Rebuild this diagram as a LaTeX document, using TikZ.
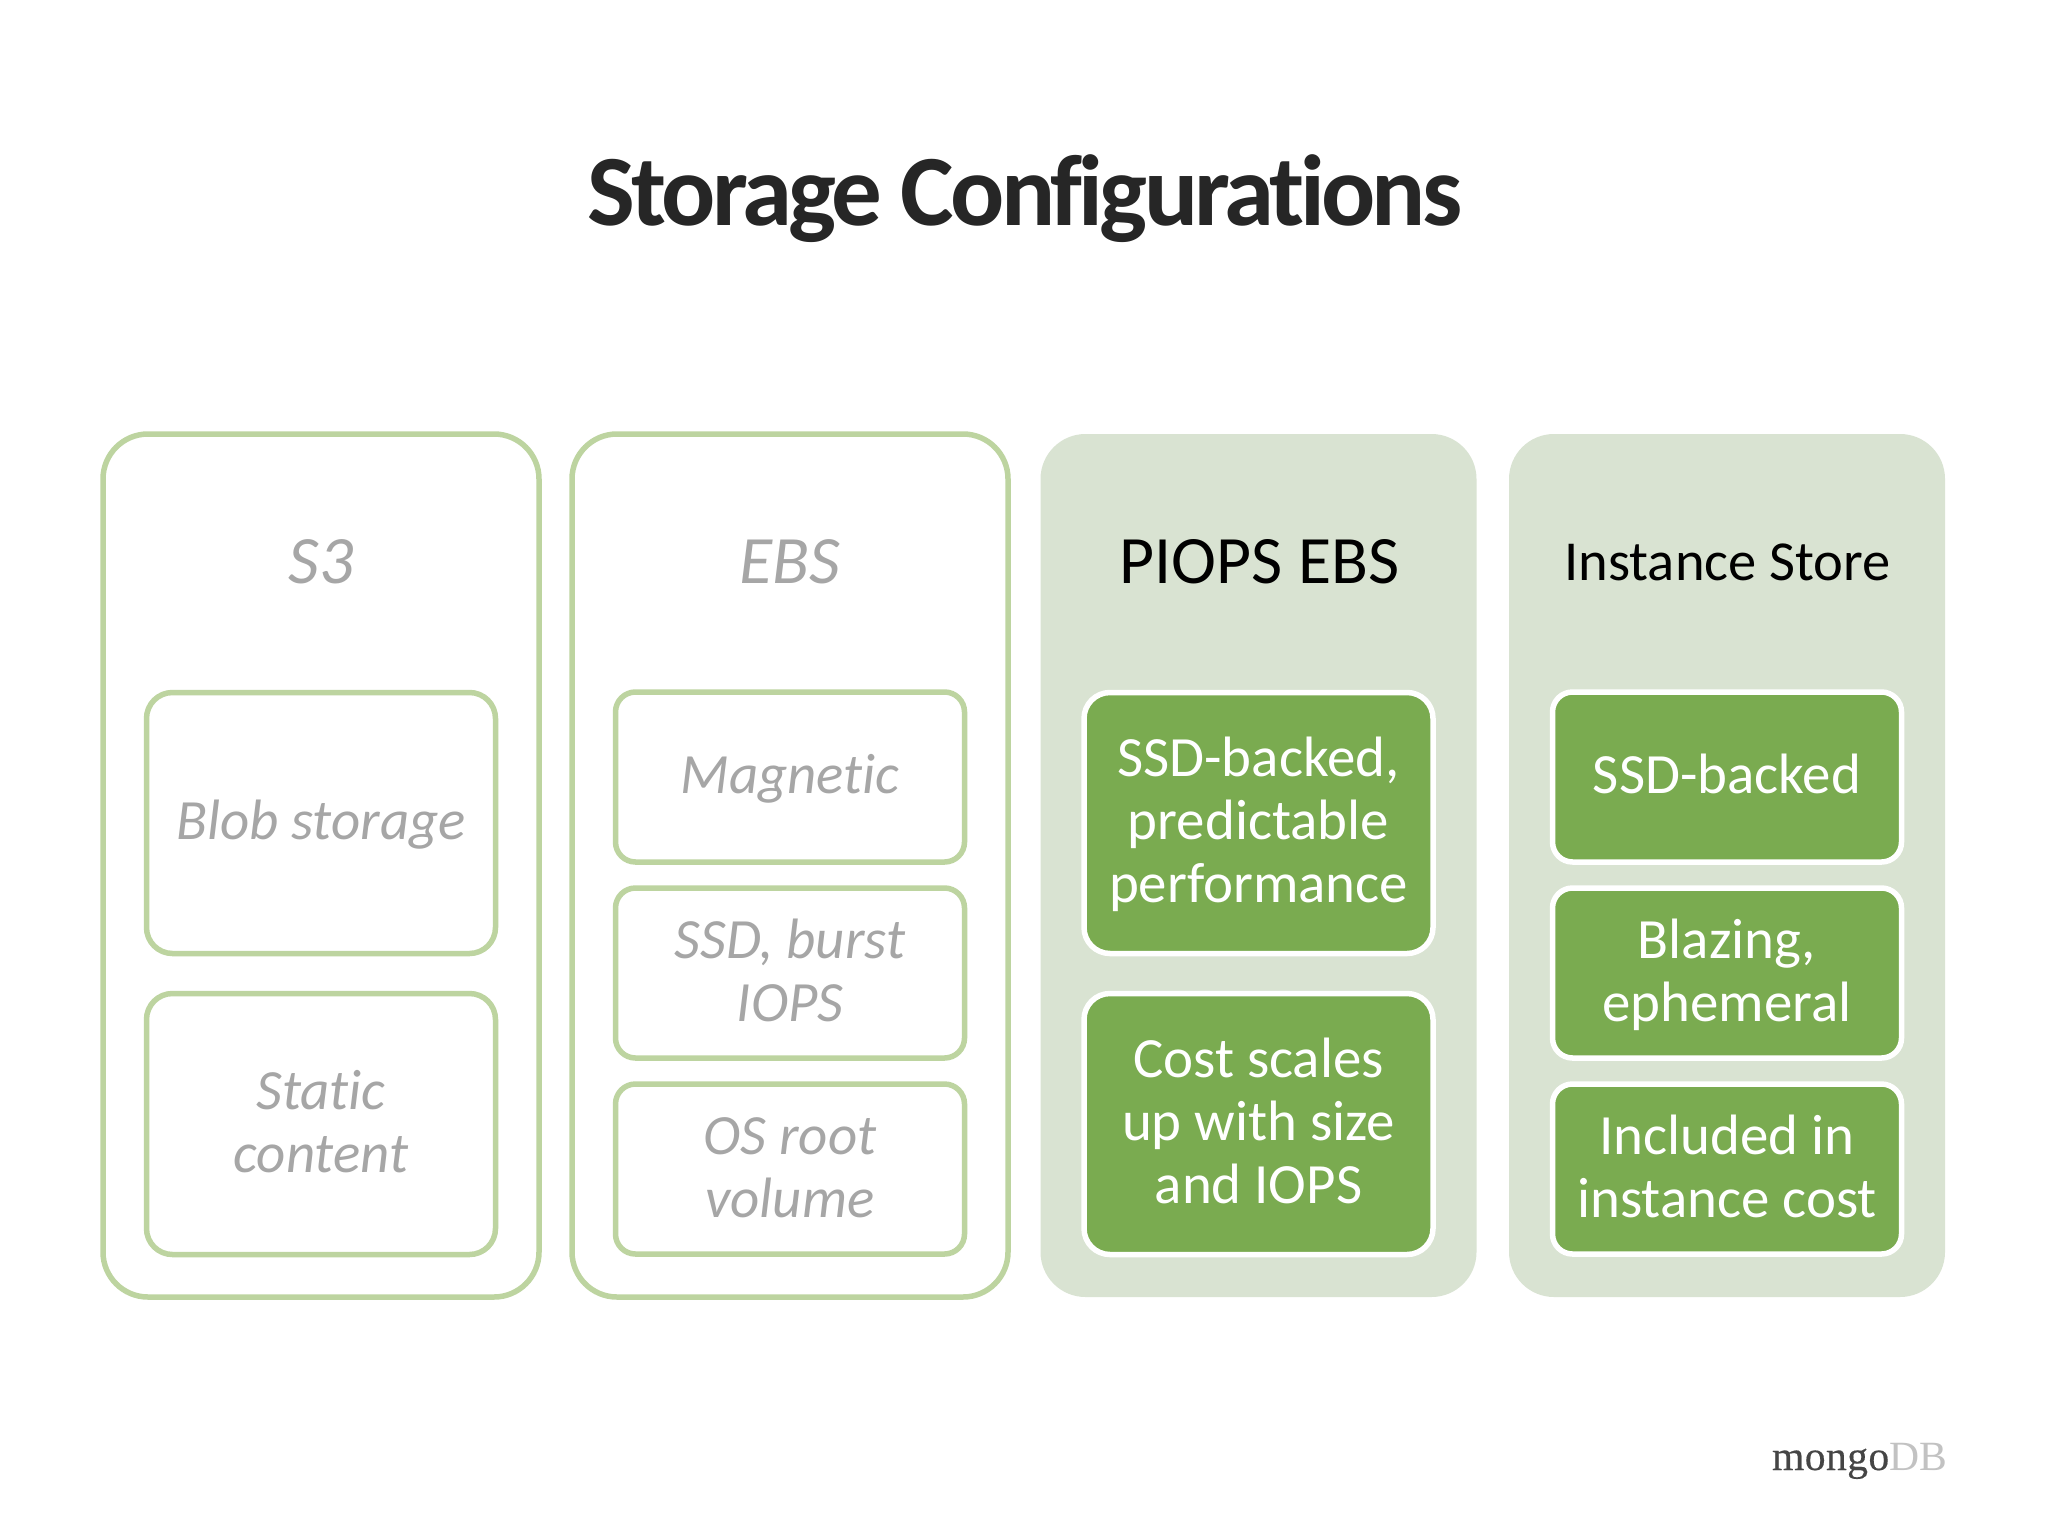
\documentclass[tikz,border=0pt]{standalone}
\usepackage{fontspec}
\setmainfont[Ligatures=NoCommon]{Carlito}
\newfontfamily\titlefont[LetterSpace=-3.8,Ligatures=NoCommon]{Carlito}
\newfontfamily\logofont[LetterSpace=1,FakeBold=0.4]{Liberation Serif}
\newfontfamily\logofontb{Liberation Serif}
\newcommand\ls{\rule[-7.5pt]{0pt}{31.5pt}}
\definecolor{edgegreen}{HTML}{BDD4A0}
\definecolor{panelgreen}{HTML}{D9E3D2}
\definecolor{solidgreen}{HTML}{7AAB50}
\definecolor{mutedtext}{HTML}{A6A6A6}
\definecolor{titletext}{HTML}{262626}
\definecolor{logodark}{HTML}{454545}
\definecolor{logolight}{HTML}{C2C2C2}
\tikzset{
  x=0.5pt,y=-0.5pt,
  every node/.style={inner sep=0pt,outer sep=0pt,align=center},
  boxtext/.style={font=\fontsize{28.45}{31.5}\selectfont},
  boxitalic/.style={font=\itshape\fontsize{28.45}{31.5}\selectfont},
  headtext/.style={font=\fontsize{33.9}{36}\selectfont},
  headitalic/.style={font=\itshape\fontsize{33.9}{36}\selectfont},
  panelbase/.style={rectangle,rounded corners=22.5pt,minimum width=218pt,minimum height=431.5pt},
  panelopen/.style={panelbase,draw=edgegreen,line width=2.75pt,fill=white},
  panelfill/.style={panelbase,fill=panelgreen},
  tallbox/.style={rounded corners=13pt,minimum width=174.5pt,minimum height=130.5pt},
  shortbox/.style={rounded corners=10pt,minimum width=174.5pt,minimum height=85pt},
  openbox/.style={rectangle,boxitalic,draw=edgegreen,line width=2.75pt,fill=white,text=mutedtext},
  solidbox/.style={rectangle,boxtext,draw=white,line width=2.75pt,fill=solidgreen,text=white},
}
\begin{document}
\begin{tikzpicture}
\useasboundingbox (0,0) rectangle (2048,1536);
\fill[white] (0,0) rectangle (2048,1536);
\node[anchor=base,text=titletext,font=\titlefont\bfseries\fontsize{50.5}{54}\selectfont] (title) at (1025,225) {Storage Configurations};

\node[panelopen] (p1) at (321,865.5) {};
\node[panelopen] (p2) at (790,865.5) {};
\node[panelfill] (p3) at (1258.5,865.5) {};
\node[panelfill] (p4) at (1727,865.5) {};

\node[headitalic,text=mutedtext] (h1) at (321,562) {S3};
\node[headitalic,text=mutedtext] (h2) at (790,562) {EBS};
\node[headtext,text=black] (h3) at (1259.5,562) {PIOPS EBS};
\node[text=black,font=\fontsize{28.25}{31.5}\selectfont] (h4) at (1727.5,562) {Instance Store};

\node[openbox,tallbox] (a1) at (321,823) {\ls Blob storage};
\node[openbox,tallbox] (a2) at (321,1124) {\ls Static\\content\ls};

\node[openbox,shortbox] (b1) at (790,777) {\ls Magnetic};
\node[openbox,shortbox] (b2) at (790,973) {\ls SSD, burst\\IOPS\ls};
\node[openbox,shortbox] (b3) at (790,1169) {\ls OS root\\volume\ls};

\node[solidbox,tallbox] (c1) at (1258.5,823) {\ls SSD-backed,\\predictable\\performance\ls};
\node[solidbox,tallbox] (c2) at (1258.5,1124) {\ls Cost scales\\up with size\\and IOPS\ls};

\node[solidbox,shortbox] (d1) at (1727,777) {\ls SSD-backed};
\node[solidbox,shortbox] (d2) at (1727,973) {\ls Blazing,\\ephemeral\ls};
\node[solidbox,shortbox] (d3) at (1727,1169) {\ls Included in\\instance cost\ls};

\node[anchor=base east,font=\fontsize{20.8}{24}\selectfont] (logo) at (1947,1470) {\textcolor{logodark}{\logofont mongo}\textcolor{logolight}{\logofontb DB}};
\end{tikzpicture}
\end{document}
